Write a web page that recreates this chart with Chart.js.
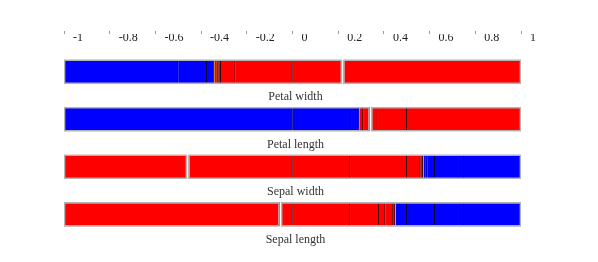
<!DOCTYPE html>
<html>
<head>
<meta charset="utf-8">
<script src="https://cdn.jsdelivr.net/npm/chart.js@4"></script>
<style>
  html, body { margin: 0; padding: 0; background: #fff; }
  canvas { display: block; }
</style>
</head>
<body>
<canvas id="chart" width="598" height="262"></canvas>
<script>
// Rows (one bar per feature), top to bottom
const features = ['Petal width', 'Petal length', 'Sepal width', 'Sepal length'];

// Axis ticks
const tickValues = [-1, -0.8, -0.6, -0.4, -0.2, 0, 0.2, 0.4, 0.6, 0.8, 1];
const tickLabels = ['-1', '-0.8', '-0.6', '-0.4', '-0.2', '0', '0.2', '0.4', '0.6', '0.8', '1'];

// Segments per bar: [from, to, class]  (neg = blue, pos = red, mix = thin yellow)
const petalWidthSegments = [
    [-1, -0.5, 'neg'], [-0.5, -0.375, 'neg'], [-0.375, -0.345, 'neg'], [-0.345, -0.341, 'mix'],
    [-0.341, -0.333, 'pos'], [-0.333, -0.324, 'pos'], [-0.324, -0.314, 'pos'], [-0.314, -0.25, 'pos'],
    [-0.25, 0, 'pos'], [0, 0.216, 'pos'], [0.223, 1, 'pos']
];
const petalLengthSegments = [
    [-1, 0, 'neg'], [0, 0.25, 'neg'], [0.25, 0.278, 'neg'], [0.278, 0.287, 'neg'], [0.287, 0.291, 'neg'],
    [0.291, 0.294, 'mix'], [0.294, 0.309, 'pos'], [0.309, 0.337, 'pos'],
    [0.345, 0.372, 'pos'], [0.372, 0.5, 'pos'], [0.5, 1, 'pos']
];
const sepalWidthSegments = [
    [-1, -0.462, 'pos'], [-0.455, 0, 'pos'], [0, 0.25, 'pos'], [0.25, 0.5, 'pos'], [0.5, 0.56, 'pos'],
    [0.56, 0.571, 'pos'], [0.571, 0.575, 'mix'], [0.575, 0.582, 'neg'], [0.582, 0.59, 'neg'],
    [0.59, 0.623, 'neg'], [0.623, 0.75, 'neg'], [0.75, 1, 'neg']
];
const sepalLengthSegments = [
    [-1, -0.057, 'pos'], [-0.05, 0, 'pos'], [0, 0.25, 'pos'], [0.25, 0.377, 'pos'], [0.377, 0.406, 'pos'],
    [0.406, 0.438, 'pos'], [0.438, 0.449, 'pos'], [0.449, 0.453, 'mix'], [0.453, 0.461, 'neg'],
    [0.461, 0.469, 'neg'], [0.469, 0.5, 'neg'], [0.5, 0.623, 'neg'], [0.623, 0.75, 'neg'], [0.75, 1, 'neg']
];

// Outlined blocks per bar (white gap between them)
const petalWidthBlocks = [[-1, 0.216], [0.223, 1]];
const petalLengthBlocks = [[-1, 0.337], [0.345, 1]];
const sepalWidthBlocks = [[-1, -0.462], [-0.455, 1]];
const sepalLengthBlocks = [[-1, -0.057], [-0.05, 1]];

const segmentRows = [petalWidthSegments, petalLengthSegments, sepalWidthSegments, sepalLengthSegments];
const blockRows = [petalWidthBlocks, petalLengthBlocks, sepalWidthBlocks, sepalLengthBlocks];

const classColors = { neg: '#0000ff', pos: '#ff0000', mix: '#c8b400' };
const FONT = '"Liberation Serif", "DejaVu Serif", serif';

// Build floating bar data
const segmentData = [];
segmentRows.forEach((segs, row) => {
    segs.forEach(([a, b, cls]) => segmentData.push({ x: [a, b], y: row, cls: cls }));
});
const blockData = [];
blockRows.forEach((blocks, row) => {
    blocks.forEach(([a, b]) => blockData.push({ x: [a, b], y: row }));
});

// Feature names drawn under each bar
const rowLabels = {
    id: 'rowLabels',
    afterDatasetsDraw(chart) {
        const { ctx, chartArea, scales } = chart;
        ctx.save();
        ctx.font = '12px ' + FONT;
        ctx.fillStyle = '#333';
        ctx.textAlign = 'center';
        ctx.textBaseline = 'middle';
        const cx = (chartArea.left + chartArea.right) / 2 + 3;
        features.forEach((name, i) => {
            ctx.fillText(name, cx, scales.y.getPixelForValue(i) + 25.5);
        });
        ctx.restore();
    }
};

new Chart(document.getElementById('chart'), {
    type: 'bar',
    data: {
        datasets: [
            {
                label: 'blocks',
                data: blockData,
                order: 0,
                backgroundColor: 'rgba(0,0,0,0)',
                borderColor: '#b2b2b2',
                borderWidth: 1,
                borderSkipped: false
            },
            {
                label: 'segments',
                data: segmentData,
                order: 1,
                backgroundColor: ctx => classColors[ctx.raw.cls],
                borderColor: ctx => ctx.raw.cls === 'mix' ? classColors.mix : '#000',
                borderWidth: { top: 0, bottom: 0, left: 0, right: 1 },
                borderSkipped: false
            }
        ]
    },
    options: {
        indexAxis: 'y',
        responsive: false,
        animation: false,
        datasets: {
            bar: { grouped: false, barThickness: 24, maxBarThickness: 24 }
        },
        layout: { padding: { top: 31, left: 64, right: 77, bottom: 10 } },
        scales: {
            x: {
                type: 'linear',
                position: 'top',
                weight: 0,
                min: -1,
                max: 1,
                afterBuildTicks: s => { s.ticks = tickValues.map(v => ({ value: v })); },
                afterFit: s => { s.height = 7; },
                ticks: {
                    align: 'start',
                    labelOffset: 9,
                    padding: -4,
                    autoSkip: false,
                    maxRotation: 0,
                    color: '#222',
                    font: { family: FONT, size: 12 },
                    callback: (v, i) => tickLabels[i]
                },
                grid: { display: false, drawTicks: false },
                border: { display: false }
            },
            x2: {
                type: 'linear',
                position: 'top',
                weight: 1,
                min: -1,
                max: 1,
                afterBuildTicks: s => { s.ticks = tickValues.map(v => ({ value: v })); },
                afterFit: s => { s.height = 3; },
                ticks: { display: false },
                grid: { drawOnChartArea: false, drawTicks: true, tickLength: 3, tickColor: '#999' },
                border: { display: false }
            },
            y: {
                type: 'linear',
                reverse: true,
                offset: false,
                min: -0.646,
                max: 3.793,
                display: false
            }
        },
        plugins: {
            legend: { display: false },
            tooltip: { enabled: false }
        }
    },
    plugins: [rowLabels]
});
</script>
</body>
</html>
